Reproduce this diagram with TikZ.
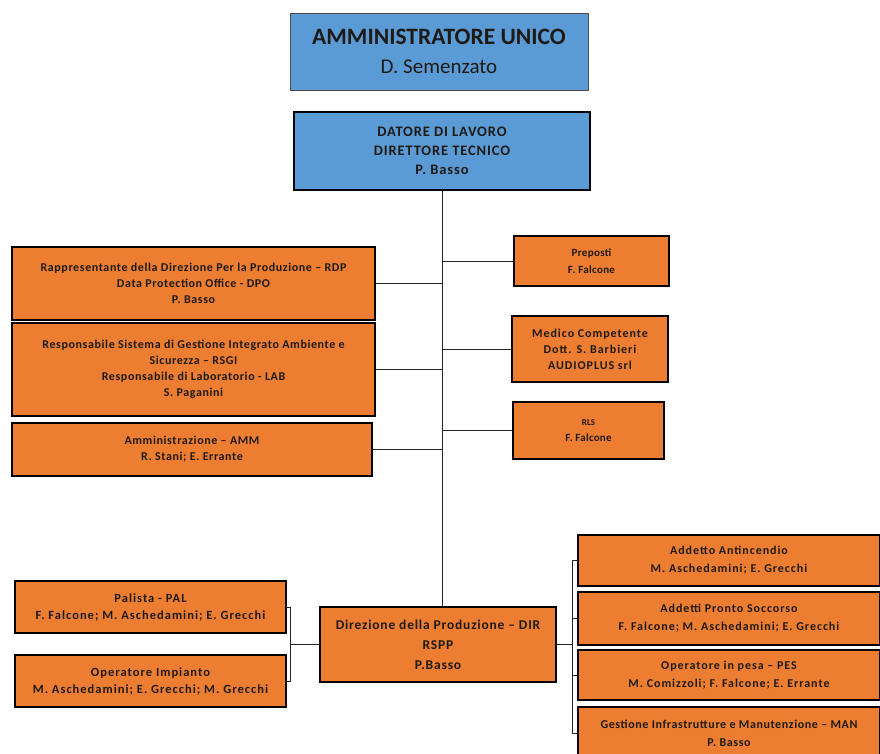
\documentclass[tikz,border=0pt]{standalone}
\usepackage{fontspec}
\setmainfont{Carlito}
\definecolor{headblue}{HTML}{5B9BD5}
\definecolor{roleorange}{HTML}{ED7D31}
\definecolor{inktext}{HTML}{1E1A16}
% role text: size, baseline skip, letter spacing
\newcommand{\rolefont}[3]{\fontsize{#1}{#2}\selectfont\bfseries\addfontfeatures{LetterSpace=#3}}
\begin{document}
\begin{tikzpicture}[x=1pt,y=-1pt,
  headbox/.style={draw=black!70, line width=0.6pt, fill=headblue, align=center,
    inner sep=0pt, text=inktext},
  rolebox/.style={draw=black, line width=2.2pt, fill=roleorange, align=center,
    inner sep=0pt, text=inktext, font=\rolefont{12}{16}{5}},
  link/.style={draw=black!85, line width=1pt}]
\useasboundingbox (0,0) rectangle (880,753);

% top of the chart
\node[headbox, minimum width=298, minimum height=77,
  font=\fontsize{21}{29}\selectfont] (au) at (439,51.5)
  {{\fontsize{23.5}{29}\selectfont\bfseries AMMINISTRATORE UNICO}\\D. Semenzato};
\node[headbox, draw=black, line width=1.2pt, minimum width=296, minimum height=78,
  font=\rolefont{14.5}{19}{6}] (dl) at (442,151)
  {DATORE DI LAVORO\\DIRETTORE TECNICO\\P. Basso};

% staff roles, left
\node[rolebox, minimum width=363, minimum height=73] (rdp) at (193.5,283.5)
  {Rappresentante della Direzione Per la Produzione – RDP\\Data Protection Office - DPO\\P. Basso};
\node[rolebox, minimum width=363, minimum height=93] (rsgi) at (193.5,369.5)
  {Responsabile Sistema di Gestione Integrato Ambiente e\\Sicurezza – RSGI\\Responsabile di Laboratorio - LAB\\S. Paganini};
\node[rolebox, minimum width=360, minimum height=53] (amm) at (192,449.5)
  {Amministrazione – AMM\\R. Stani; E. Errante};

% staff roles, right
\node[rolebox, minimum width=155, minimum height=50, font=\rolefont{11}{17}{3}] (prep) at (591.5,261)
  {Preposti\\F. Falcone};
\node[rolebox, minimum width=156, minimum height=66, font=\rolefont{12}{16}{8}] (med) at (590,349)
  {Medico Competente\\Dott. S. Barbieri\\AUDIOPLUS srl};
\node[rolebox, minimum width=151, minimum height=57, font=\rolefont{11}{16}{2}] (rls) at (588.5,430.5)
  {{\fontsize{9}{16}\selectfont RLS}\\F. Falcone};

% production
\node[rolebox, minimum width=236, minimum height=75, font=\rolefont{13.5}{20}{6}] (dir) at (438,644.5)
  {Direzione della Produzione – DIR\\RSPP\\P.Basso};
\node[rolebox, minimum width=271, minimum height=52, font=\rolefont{12.5}{17}{8}] (pal) at (150.5,607)
  {Palista - PAL\\F. Falcone; M. Aschedamini; E. Grecchi};
\node[rolebox, minimum width=271, minimum height=52, font=\rolefont{12.5}{17}{8}] (opi) at (150.5,681)
  {Operatore Impianto\\M. Aschedamini; E. Grecchi; M. Grecchi};
\node[rolebox, minimum width=302, minimum height=51, font=\rolefont{12}{18}{8}] (aa) at (729,560.5)
  {Addetto Antincendio\\M. Aschedamini; E. Grecchi};
\node[rolebox, minimum width=302, minimum height=53, font=\rolefont{12}{18}{8}] (aps) at (729,618.5)
  {Addetti Pronto Soccorso\\F. Falcone; M. Aschedamini; E. Grecchi};
\node[rolebox, minimum width=302, minimum height=50, font=\rolefont{12}{18}{8}] (pes) at (729,675)
  {Operatore in pesa – PES\\M. Comizzoli; F. Falcone; E. Errante};
\node[rolebox, minimum width=302, minimum height=52, anchor=north, font=\rolefont{12}{18}{5}] (man) at (729,706)
  {Gestione Infrastrutture e Manutenzione – MAN\\P. Basso};

% connectors
\coordinate (lb) at (290,0);
\coordinate (rb) at (572,0);
\draw[link] (dl.south) -- (dl.south |- dir.north);
\foreach \n in {rdp,rsgi,amm,prep,med,rls}
  \draw[link] (\n) -- (\n -| dl.south);
\draw[link] (pal.east) -- (pal.east -| lb) -- (opi.east -| lb) -- (opi.east);
\draw[link] (dir.west) -- (dir.west -| lb);
\draw[link] (aa.west) -- (aa.west -| rb) -- (rb |- man.west) -- (man.west);
\draw[link] (aps.west) -- (aps.west -| rb);
\draw[link] (pes.west) -- (pes.west -| rb);
\draw[link] (dir.east) -- (dir.east -| rb);
\end{tikzpicture}
\end{document}
